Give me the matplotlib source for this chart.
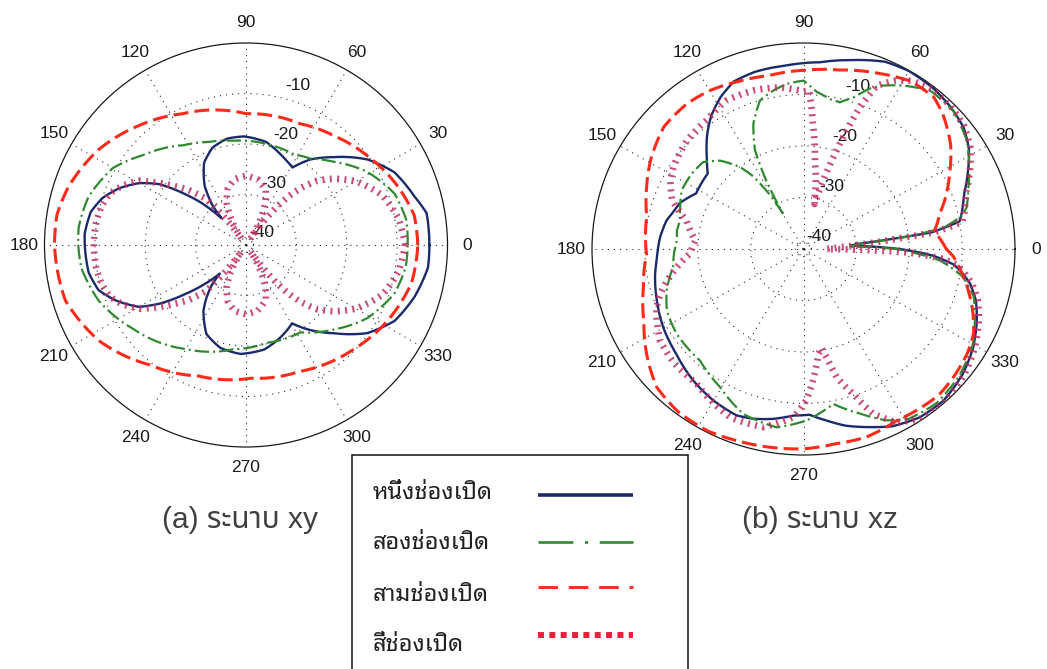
import numpy as np
import matplotlib
matplotlib.use("Agg")
import matplotlib.pyplot as plt
from matplotlib import font_manager as fm
from matplotlib.ft2font import FT2Font
from matplotlib.lines import Line2D
from matplotlib.patches import Rectangle

# ---------------------------------------------------------------- labels
series_names = ["หนึ่งช่องเปิด", "สองช่องเปิด", "สามช่องเปิด", "สี่ช่องเปิด"]
panel_titles = ["(a) ระนาบ xy", "(b) ระนาบ xz"]
angle_ticks = list(range(0, 360, 30))
radial_ticks = [-40, -30, -20, -10]
ring_levels = [-38.5, -30, -20, -10]

# ---------------------------------------------------------------- xy plane (deg, dB)
xy_one_ang = [0, 10, 16, 26, 35, 45, 53, 59, 64, 69, 79, 91, 100, 109, 117, 125,
              130.5, 132.5, 134.5, 137, 140, 145, 150, 156, 162, 168, 176, 180,
              190, 197, 203, 210, 214, 219, 223, 227.4, 229.5, 233, 237, 246, 256,
              267, 280, 290, 296, 300.5, 306, 315, 324, 333, 343, 353]
xy_one_db = [-3.6, -3.6, -5.2, -7.2, -10.5, -15.4, -18.8, -22.1, -21.5, -20.8, -19.2,
             -18.5, -18.6, -19.6, -21.7, -25.7, -29.9, -32.8, -30.5, -27.5, -24.5,
             -19.0, -15.5, -12.4, -10.0, -8.5, -7.9, -8.0, -8.3, -9.4, -11.9, -15.5,
             -19.2, -24.7, -28.5, -32.3, -29.5, -27.0, -24.5, -20.7, -19.0, -18.4,
             -19.0, -20.4, -21.3, -22.0, -19.4, -15.3, -10.3, -6.9, -5.0, -3.6]

xy_two_ang = [0, 9, 19, 31, 43, 53, 62, 78, 97, 110, 122, 139, 150, 163, 174, 180,
              188, 201, 216, 240, 263, 282, 302, 316, 329, 342, 352]
xy_two_db = [-7.9, -7.8, -8.8, -11.9, -15.9, -18.6, -19.7, -19.6, -19.2, -18.3,
             -16.7, -12.9, -9.5, -7.3, -6.6, -6.7, -7.0, -8.8, -12.0, -16.2, -19.2,
             -20.2, -19.6, -15.9, -11.9, -9.0, -8.0]

xy_three_ang = [0, 10, 21, 36, 51, 66, 90, 116, 132, 147, 162, 171, 180, 197, 213,
                231, 250, 272, 293, 315, 330, 347]
xy_three_db = [-5.9, -6.1, -7.7, -10.1, -12.2, -13.7, -14.0, -11.1, -8.2, -5.2,
               -2.9, -2.0, -2.0, -2.5, -5.2, -9.5, -12.4, -13.6, -12.8, -10.4,
               -8.4, -6.3]

xy_four_ang = [0, 10, 20, 30, 37, 42, 46, 49, 51, 53, 55, 58, 62, 66, 70, 80, 90,
               100, 108, 115, 120, 125, 128, 131, 136, 141, 145, 149, 154, 159, 165,
               172, 180, 188, 195, 201, 206, 211, 215, 219, 224, 229, 232, 235, 240,
               245, 252, 260, 270, 280, 290, 294, 298, 302, 305, 307, 309, 311, 314,
               318, 323, 330, 340, 350]
xy_four_db = [-8.4, -9.3, -11.2, -14.8, -18.2, -21.0, -24.3, -27.5, -30.2, -34.0,
              -38.5, -36.0, -33.0, -30.5, -28.5, -26.8, -26.3, -26.8, -28.3, -31.0,
              -34.0, -38.5, -33.0, -28.0, -24.5, -21.4, -18.5, -15.3, -13.0, -11.2,
              -10.3, -9.9, -9.8, -9.9, -10.3, -11.2, -13.0, -15.5, -18.5, -21.4,
              -24.5, -28.0, -33.0, -38.5, -34.0, -31.0, -28.3, -26.8, -26.3, -26.8,
              -28.5, -30.5, -33.0, -36.0, -38.5, -34.0, -30.2, -27.5, -24.3, -21.0,
              -18.2, -14.8, -11.2, -9.3]

# ---------------------------------------------------------------- xz plane (deg, dB)
xz_one_ang = [0, 2, 4, 5.5, 6.7, 7.6, 10.3, 13, 17, 20, 27, 32, 38, 45, 52, 60, 67,
              76, 85, 95, 105, 112, 118, 124, 129, 136, 141, 152, 159, 164, 168, 175,
              184, 190, 200, 210, 220, 231, 240, 248.6, 254, 260, 266.6, 272, 277.5,
              283, 290, 296, 304, 312, 321, 329, 337, 343, 348, 352, 354, 357]
xz_one_db = [-21.8, -27.0, -31.0, -30.0, -23.0, -15.5, -10.0, -9.3, -8.4, -7.6, -5.0,
             -3.1, -1.6, -0.8, -0.3, -0.1, -0.5, -2.2, -3.6, -4.2, -4.4, -4.9, -6.6,
             -8.8, -11.1, -14.6, -16.7, -17.0, -15.0, -14.3, -13.5, -12.8, -12.2,
             -11.5, -10.5, -9.4, -8.5, -7.0, -6.0, -5.3, -5.7, -6.5, -7.6, -7.8,
             -6.4, -4.8, -3.2, -1.7, -0.6, -0.4, -1.3, -2.6, -4.4, -5.9, -7.8,
             -10.1, -11.5, -15.5]

xz_two_ang = [0, 3, 5.5, 7, 9, 12, 14.7, 21, 28, 34.3, 43.5, 52, 59.3, 64.7, 68, 72,
              76.4, 80, 85.3, 90, 95.7, 100, 105.9, 111.3, 115.6, 118, 119.5, 121,
              124, 127, 132.6, 138.4, 145.4, 153.7, 160, 166.7, 171.5, 176, 182, 188,
              197.3, 205, 214.5, 227.9, 239.5, 250.4, 261.7, 271, 280.6, 288.5, 295.3,
              301, 310, 320, 330, 337, 344, 350, 355]
xz_two_db = [-22.5, -31.5, -29.0, -20.0, -13.0, -9.5, -8.1, -6.6, -4.5, -2.6, -1.0,
             -1.0, -3.1, -4.9, -6.4, -9.0, -10.7, -10.5, -9.4, -7.3, -7.8, -8.6,
             -10.0, -13.9, -18.8, -25.0, -32.0, -28.0, -23.0, -20.1, -16.7, -14.6,
             -14.3, -14.3, -15.2, -16.0, -15.8, -16.0, -15.5, -15.1, -12.9, -11.5,
             -10.9, -10.8, -8.9, -6.0, -5.0, -6.7, -9.4, -6.3, -3.2, -1.5, -0.9,
             -1.6, -3.0, -4.8, -6.5, -9.5, -14.0]

xz_three_ang = [0, 8, 15, 20, 28, 36, 45, 50, 58, 67, 79, 90, 101, 111, 120, 128, 138,
                149, 158, 168, 182, 194, 205, 214.5, 224, 233, 243, 251, 261, 270, 279,
                288, 298, 312, 319, 327, 333, 340, 350, 357]
xz_three_db = [-13.0, -15.0, -13.3, -11.5, -8.7, -5.6, -2.8, -1.6, -1.6, -3.0, -4.6,
               -5.3, -5.7, -5.2, -4.5, -4.2, -4.5, -6.3, -8.0, -9.7, -10.3, -8.8,
               -6.7, -4.0, -1.4, -0.5, -0.3, -0.7, -1.0, -1.2, -1.7, -1.6, -2.3,
               -1.8, -2.3, -3.0, -3.9, -6.0, -9.3, -11.6]

xz_four_ang = [0, 3, 5, 6.5, 7.5, 10, 13, 17, 20, 27, 32, 38, 45, 52, 58, 62, 66.4,
               68.8, 70.5, 72.4, 74.3, 76.5, 78, 80, 82.5, 85.8, 88, 90, 98, 107, 117,
               126, 136, 147, 152, 159, 166, 175.5, 182.5, 188.4, 195.6, 202, 213, 222,
               232, 247, 257.6, 266.6, 271, 274, 277.8, 280, 281.8, 284.2, 288.5,
               292.4, 297.6, 304, 312, 321, 329, 337, 343, 348, 352, 354, 356, 358]
xz_four_db = [-35.5, -33.0, -28.0, -22.0, -15.0, -9.5, -8.8, -8.0, -7.2, -4.6, -2.8,
              -1.4, -0.7, -0.5, -1.5, -3.0, -5.4, -10.5, -15.6, -21.3, -26.2, -31.0,
              -29.7, -26.5, -23.3, -15.6, -9.2, -9.4, -8.3, -7.8, -7.7, -9.0, -9.5,
              -10.7, -11.5, -13.4, -17.2, -19.5, -18.5, -15.8, -12.5, -10.0, -7.6,
              -7.0, -7.0, -4.5, -4.6, -7.3, -10.6, -14.4, -19.4, -20.5, -18.5, -14.3,
              -10.3, -5.4, -2.0, -0.3, -0.1, -1.0, -2.3, -4.0, -5.5, -7.4, -9.6,
              -11.0, -14.0, -20.0]

# ---------------------------------------------------------------- fonts
def thai_capable_families():
    names = []
    for entry in fm.fontManager.ttflist:
        if entry.name in names:
            continue
        try:
            cmap = FT2Font(entry.fname).get_charmap()
        except Exception:
            continue
        if all(c in cmap for c in (0x0E01, 0x0E19, 0x0E32, 0x0E40, 0x0E14)):
            names.append(entry.name)
    return names


def pick(available, preferred):
    for p in preferred:
        if p in available:
            return p
    return available[0] if available else "DejaVu Sans"


thai_fonts = thai_capable_families()
looped_font = pick(thai_fonts, ["Noto Sans Thai Looped", "Noto Serif Thai", "Loma",
                                "Garuda", "Norasi", "Kinnari", "Sarabun", "Tlwg Typo"])
plain_font = pick(thai_fonts, ["Noto Sans Thai", "Noto Sans Thai UI", "Kanit", "Prompt",
                               "Loma", "Garuda", "Sawasdee"])
num_font = ["Liberation Sans", "DejaVu Sans"]

# ---------------------------------------------------------------- styles
styles = [
    dict(color="#1b2a6b", lw=1.7, ls="-"),
    dict(color="#2f8a2f", lw=1.6, ls=(0, (6.5, 1.8, 0.9, 1.8))),
    dict(color="#ff2a1a", lw=2.2, ls=(0, (4.9, 2.0))),
    dict(color="#c42a5c", lw=4.8, ls=(0, (0.3, 0.8)), alpha=0.85),
]


def closed(ang, db):
    a = np.deg2rad(np.r_[ang, ang[0] + 360.0])
    d = np.r_[db, db[0]]
    return a, d


def style_polar(ax):
    ax.set_aspect("auto")
    ax.set_theta_zero_location("E")
    ax.set_theta_direction(1)
    ax.set_ylim(-40, 0)
    ax.set_xticks(np.deg2rad(angle_ticks))
    ax.set_xticklabels([])
    ax.set_yticks(ring_levels)
    ax.set_yticklabels([])
    ax.set_axisbelow(True)
    ax.grid(True, color="#2b2b2b", linewidth=0.8, linestyle=(0, (1, 4.5)))
    ax.spines["polar"].set_color("#1a1a1a")
    ax.spines["polar"].set_linewidth(0.9)
    ax.tick_params(length=0, pad=0)
    for a in angle_ticks:
        ax.text(np.deg2rad(a), 4.0, str(a), ha="center", va="center", fontsize=12.5,
                family=num_font, color="#1a1a1a", clip_on=False)
    for v in radial_ticks:
        ax.text(np.deg2rad(76), v + 2.5, str(v), ha="left", va="center", fontsize=12.5,
                family=num_font, color="#1a1a1a", clip_on=False, zorder=1.5)


W, H = 1047, 669
fig = plt.figure(figsize=(W / 100, H / 100), dpi=100)
fig.patch.set_facecolor("white")

ax1 = fig.add_axes([44.5 / W, (H - 447) / H, 403 / W, 404 / H], projection="polar")
ax2 = fig.add_axes([592 / W, (H - 455) / H, 423 / W, 412 / H], projection="polar")

panels = [
    (ax1, [(xy_one_ang, xy_one_db), (xy_two_ang, xy_two_db),
           (xy_three_ang, xy_three_db), (xy_four_ang, xy_four_db)]),
    (ax2, [(xz_one_ang, xz_one_db), (xz_two_ang, xz_two_db),
           (xz_three_ang, xz_three_db), (xz_four_ang, xz_four_db)]),
]
for ax, curves in panels:
    style_polar(ax)
    for (ang, db), st in zip(curves, styles):
        a, d = closed(ang, db)
        (ln,) = ax.plot(a, d, color=st["color"], lw=st["lw"], ls=st["ls"],
                        dash_capstyle="butt", solid_joinstyle="round",
                        alpha=st.get("alpha", 1.0), zorder=3)
        # follow the polar arc between neighbouring samples
        ln.get_path()._interpolation_steps = 24

# panel captions
for x, title in zip([240, 820], panel_titles):
    fig.text(x / W, 1 - 520 / H, title, ha="center", va="center", fontsize=21.5,
             color="#404040", family=["Liberation Sans", plain_font])

# legend box
fig.add_artist(Rectangle((352 / W, -0.05), (688 - 352) / W, 1 - 455 / H + 0.05,
                         transform=fig.transFigure, fill=False, ec="#111111", lw=1.1))
text_rows = [493, 543, 595, 645]
sample_rows = [495, 542, 587, 635]
sample_styles = [
    dict(color="#1b2a6b", lw=2.6, ls="-"),
    dict(color="#2f8a2f", lw=1.9, ls=(0, (13.2, 4.4, 1.2, 4.4))),
    dict(color="#ff2a1a", lw=2.1, ls=(0, (6.7, 3.7))),
    dict(color="#e8203a", lw=4.3, ls=(0, (1.0, 0.9))),
]
for name, ty, sy, st in zip(series_names, text_rows, sample_rows, sample_styles):
    fig.text(373 / W, 1 - ty / H, name, ha="left", va="center", fontsize=17,
             color="#222222", family=[looped_font, "DejaVu Sans"])
    fig.add_artist(Line2D([538 / W, 633 / W], [1 - sy / H, 1 - sy / H],
                          transform=fig.transFigure, color=st["color"], lw=st["lw"],
                          ls=st["ls"], dash_capstyle="butt", solid_capstyle="butt"))

fig.savefig("out.png", dpi=100, facecolor="white")
